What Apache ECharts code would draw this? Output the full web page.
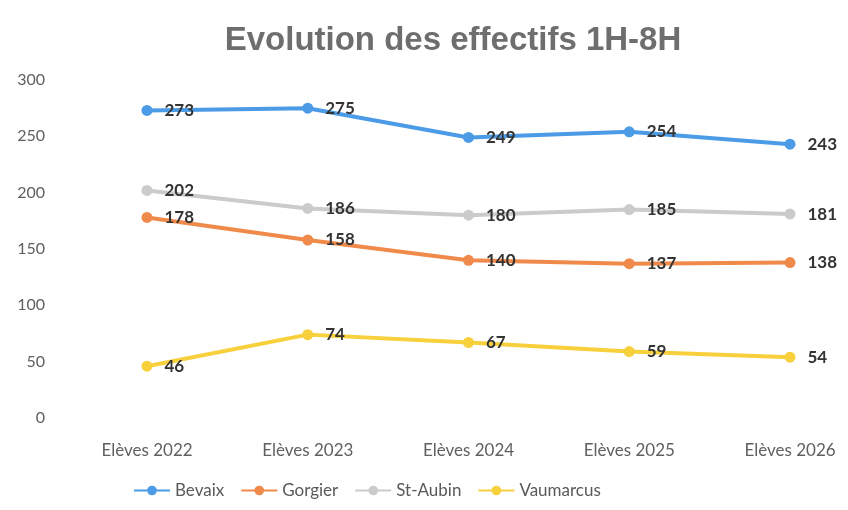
<!DOCTYPE html>
<html>
<head>
<meta charset="utf-8">
<style>
  html, body { margin: 0; padding: 0; background: #fff; }
  #chart { width: 848px; height: 510px; }
</style>
<script src="https://cdn.jsdelivr.net/npm/echarts@6/dist/echarts.min.js"></script>
</head>
<body>
<div id="chart"></div>
<script>
const categories = ["Elèves 2022", "Elèves 2023", "Elèves 2024", "Elèves 2025", "Elèves 2026"];
const bevaix = [273, 275, 249, 254, 243];
const gorgier = [178, 158, 140, 137, 138];
const stAubin = [202, 186, 180, 185, 181];
const vaumarcus = [46, 74, 67, 59, 54];

const seriesDefs = [
  { name: "Bevaix", data: bevaix, color: "#4b9be6" },
  { name: "Gorgier", data: gorgier, color: "#f08a4b" },
  { name: "St-Aubin", data: stAubin, color: "#cbcbcb" },
  { name: "Vaumarcus", data: vaumarcus, color: "#f7d03c" },
];

const chart = echarts.init(document.getElementById("chart"));

chart.setOption({
  animation: false,
  title: {
    text: "Evolution des effectifs 1H-8H",
    left: 448,
    textAlign: "center",
    top: 19,
    textStyle: { fontFamily: "Liberation Sans", fontWeight: "bold", fontSize: 33, color: "#6e6e6e" },
  },
  legend: {
    left: 128,
    bottom: 6,
    itemWidth: 36,
    itemHeight: 12,
    itemGap: 16,
    textStyle: { fontFamily: "Lato", fontSize: 17, color: "#595959" },
  },
  grid: { left: 147, right: 58, top: 80, bottom: 92 },
  xAxis: {
    type: "category",
    data: categories,
    boundaryGap: false,
    axisLine: { show: false },
    axisTick: { show: false },
    axisLabel: { color: "#606060", fontFamily: "Lato", fontSize: 17, margin: 24 },
  },
  yAxis: {
    type: "value",
    min: 0,
    max: 300,
    interval: 50,
    splitLine: { show: false },
    axisLine: { show: false },
    axisTick: { show: false },
    axisLabel: { color: "#606060", fontFamily: "Lato", fontSize: 16, margin: 102 },
  },
  series: seriesDefs.map((s) => ({
    name: s.name,
    type: "line",
    data: s.data,
    color: s.color,
    symbol: "circle",
    symbolSize: 11,
    lineStyle: { width: 4 },
    label: {
      show: true,
      position: "right",
      distance: 12,
      color: "#333",
      fontFamily: "Lato",
      fontWeight: "bold",
      fontSize: 17,
    },
  })),
});
</script>
</body>
</html>
